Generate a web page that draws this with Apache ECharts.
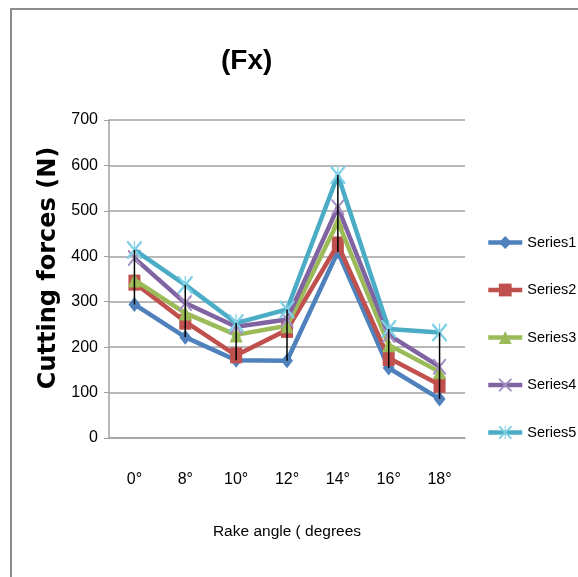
<!DOCTYPE html>
<html>
<head>
<meta charset="utf-8">
<script src="https://cdn.jsdelivr.net/npm/echarts@6/dist/echarts.min.js"></script>
<style>
html,body{margin:0;padding:0;background:#fff;}
#chart{width:578px;height:577px;}
</style>
</head>
<body>
<div id="chart"></div>
<script>
// ---- data ----
var categories = ['0°', '8°', '10°', '12°', '14°', '16°', '18°'];
var series1 = [294, 222, 171, 170, 410, 154, 86];
var series2 = [342, 256, 182, 238, 426, 176, 117];
var series3 = [348, 275, 227, 247, 476, 205, 146];
var series4 = [396, 297, 245, 261, 508, 227, 157];
var series5 = [414, 337, 253, 283, 579, 240, 232];
var seriesNames = ['Series1', 'Series2', 'Series3', 'Series4', 'Series5'];
var yTicks = [0, 100, 200, 300, 400, 500, 600, 700];

var allSeries = [series1, series2, series3, series4, series5];
var colors = ['#4F81BD', '#C0504D', '#9BBB59', '#8064A2', '#4BACC6'];
var xPath = 'path://M0,0 L2,0 L10,8 L18,0 L20,0 L20,2 L12,10 L20,18 L20,20 L18,20 L10,12 L2,20 L0,20 L0,18 L8,10 L0,2 Z';
var starPath = 'path://M0,0 L2,0 L10,8 L18,0 L20,0 L20,2 L12,10 L20,18 L20,20 L18,20 L10,12 L2,20 L0,20 L0,18 L8,10 L0,2 Z M9.2,0 L10.8,0 L10.8,20 L9.2,20 Z';
var symbols = ['diamond', 'rect', 'triangle', xPath, starPath];
var symbolSizes = [[12, 15], [12, 16], [13, 15], [13, 16], [15, 18]];
var symbolColors = ['#4F81BD', '#C0504D', '#9BBB59', '#A58FC4', '#7FD0E6'];

var hiLo = categories.map(function (c, i) {
  var vals = allSeries.map(function (s) { return s[i]; });
  return [i, Math.min.apply(null, vals), Math.max.apply(null, vals)];
});

var sans = '"Liberation Sans", Arial, sans-serif';

var chart = echarts.init(document.getElementById('chart'), null, {renderer: 'canvas'});

var lineSeries = seriesNames.map(function (name, k) {
  return {
    name: name,
    type: 'line',
    data: allSeries[k],
    symbol: symbols[k],
    symbolSize: symbolSizes[k],
    showAllSymbol: true,
    lineStyle: {color: colors[k], width: 4.5},
    itemStyle: {color: symbolColors[k]},
    emphasis: {disabled: true},
    z: 2 + k
  };
});

lineSeries.push({
  name: 'hilo',
  type: 'custom',
  data: hiLo,
  encode: {x: 0, y: [1, 2]},
  z: 10,
  silent: true,
  renderItem: function (params, api) {
    var p1 = api.coord([api.value(0), api.value(1)]);
    var p2 = api.coord([api.value(0), api.value(2)]);
    return {
      type: 'line',
      shape: {x1: p1[0], y1: p1[1], x2: p2[0], y2: p2[1]},
      style: {stroke: '#000', lineWidth: 1.5}
    };
  }
});

var option = {
  animation: false,
  backgroundColor: '#fff',
  title: {
    text: '(Fx)',
    left: 221,
    top: 47,
    padding: 0,
    textStyle: {fontFamily: sans, fontWeight: 'bold', fontSize: 28, color: '#000'}
  },
  graphic: [{
    type: 'rect',
    shape: {x: 11, y: 9, width: 700, height: 700},
    style: {fill: null, stroke: '#8c8c8c', lineWidth: 2},
    silent: true,
    z: -1
  }],
  legend: {
    orient: 'vertical',
    left: 486,
    top: 235,
    padding: 0,
    itemWidth: 34,
    itemHeight: 16,
    itemGap: 32.5,
    data: seriesNames,
    lineStyle: {width: 4.5},
    textStyle: {fontFamily: sans, fontSize: 14.5, color: '#000'}
  },
  grid: {left: 109, right: 113, top: 120, bottom: 139, containLabel: false},
  xAxis: {
    type: 'category',
    data: categories,
    boundaryGap: true,
    name: 'Rake angle ( degrees',
    nameLocation: 'middle',
    nameGap: 86,
    nameTextStyle: {fontFamily: sans, fontSize: 15.5, color: '#000'},
    axisLine: {lineStyle: {color: '#a0a0a0', width: 1.5}},
    axisTick: {show: false},
    axisLabel: {fontFamily: sans, fontSize: 16, color: '#000', margin: 34}
  },
  yAxis: {
    type: 'value',
    min: yTicks[0],
    max: yTicks[yTicks.length - 1],
    interval: 100,
    name: 'Cutting forces (N)',
    nameLocation: 'middle',
    nameGap: 47,
    nameTextStyle: {fontFamily: '"DejaVu Sans", Verdana, sans-serif', fontWeight: 'bold', fontSize: 24, color: '#000', padding: [0, 0, 0, 22]},
    axisLine: {show: true, lineStyle: {color: '#a0a0a0', width: 1.5}},
    axisTick: {show: true, length: 5, lineStyle: {color: '#a0a0a0'}},
    axisLabel: {fontFamily: sans, fontSize: 16, color: '#000', margin: 11},
    splitLine: {lineStyle: {color: '#a0a0a0', width: 1.5}}
  },
  series: lineSeries
};
chart.setOption(option);
</script>
</body>
</html>
